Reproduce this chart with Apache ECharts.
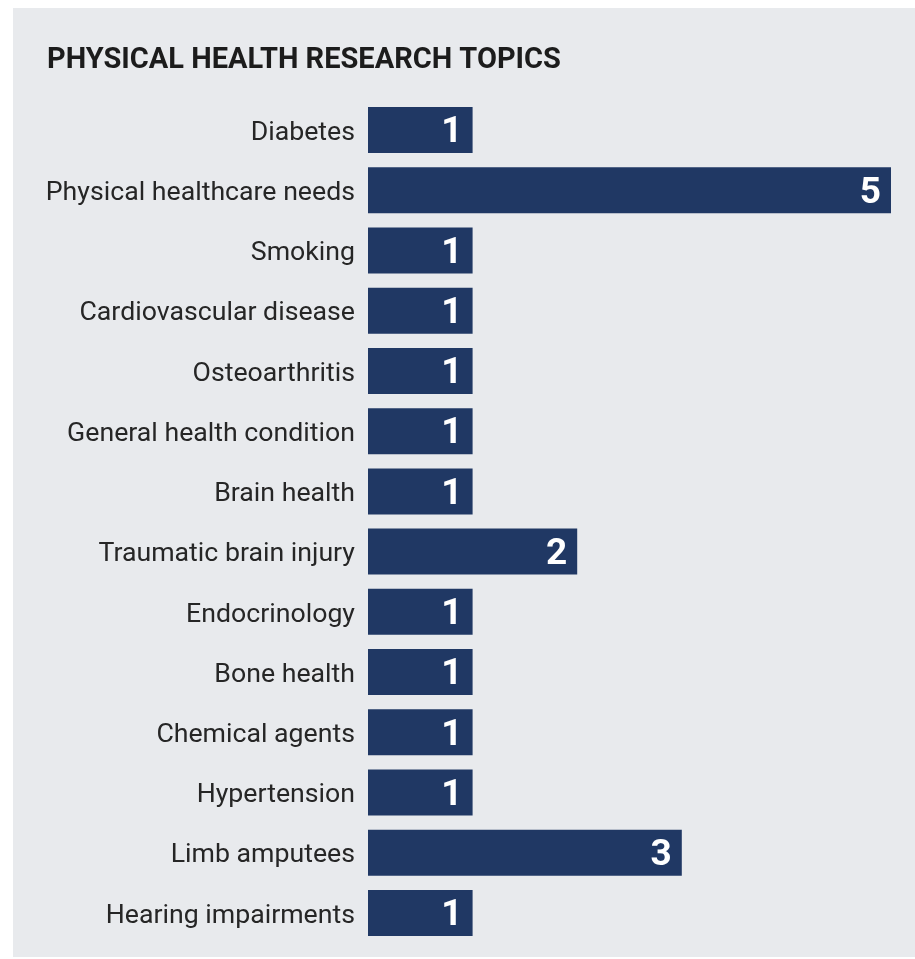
<!DOCTYPE html>
<html>
<head>
<meta charset="utf-8">
<script src="https://cdn.jsdelivr.net/npm/echarts@6/dist/echarts.min.js"></script>
<style>
  html, body { margin: 0; padding: 0; background: #ffffff; }
  #chart { position: absolute; left: 13px; top: 8px; width: 902px; height: 949px; background: #e8eaed; }
</style>
</head>
<body>
<div id="chart"></div>
<script>
// topics, top to bottom as in the picture
const topics = [
  'Diabetes',
  'Physical healthcare needs',
  'Smoking',
  'Cardiovascular disease',
  'Osteoarthritis',
  'General health condition',
  'Brain health',
  'Traumatic brain injury',
  'Endocrinology',
  'Bone health',
  'Chemical agents',
  'Hypertension',
  'Limb amputees',
  'Hearing impairments'
]
const counts = [1, 5, 1, 1, 1, 1, 1, 2, 1, 1, 1, 1, 3, 1]

const chart = echarts.init(document.getElementById('chart'))
chart.setOption({
  backgroundColor: '#e8eaed',
  animation: false,
  title: {
    text: 'PHYSICAL HEALTH RESEARCH TOPICS',
    left: 29,
    top: 33,
    textStyle: {
      fontFamily: 'Roboto',
      fontWeight: 'bold',
      fontSize: 29,
      color: '#1c1c1c'
    }
  },
  grid: {
    left: 355,
    right: 24,
    top: 92,
    bottom: 14,
    containLabel: false
  },
  xAxis: {
    type: 'value',
    min: 0,
    max: 5,
    show: false
  },
  yAxis: {
    type: 'category',
    data: topics,
    inverse: true,
    axisLine: { show: false },
    axisTick: { show: false },
    splitLine: { show: false },
    axisLabel: {
      margin: 13,
      formatter: '{t|{value}}',
      rich: {
        t: {
          padding: [6, 0, 0, 0],
          fontFamily: 'Roboto',
          fontSize: 26.7,
          color: '#262626'
        }
      }
    }
  },
  series: [{
    type: 'bar',
    data: counts,
    barWidth: 46,
    itemStyle: { color: '#203864' },
    label: {
      show: true,
      position: 'insideRight',
      distance: 10,
      offset: [0, 3],
      fontFamily: 'Roboto',
      fontWeight: 'bold',
      fontSize: 37,
      color: '#ffffff'
    }
  }]
})
</script>
</body>
</html>
